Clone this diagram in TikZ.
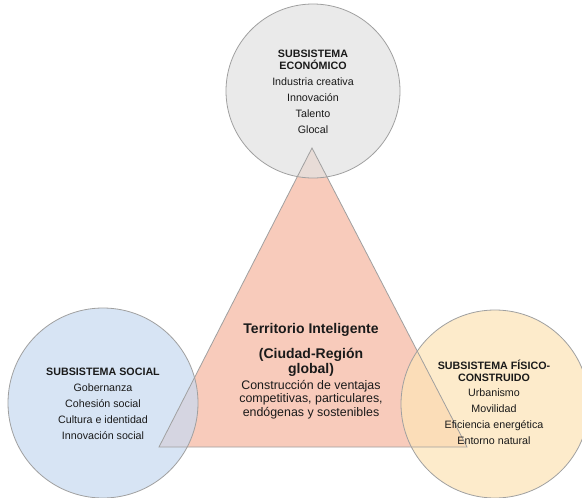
\documentclass[tikz,border=0pt]{standalone}
\usepackage{fontspec}
\setmainfont{Liberation Sans}
\definecolor{grayfill}{HTML}{E3E3E3}
\definecolor{bluefill}{HTML}{C8DAF0}
\definecolor{yellowfill}{HTML}{FDE4B7}
\definecolor{trifill}{HTML}{F8CBBB}
\definecolor{edgegray}{HTML}{A0A0A0}
\definecolor{txt}{HTML}{1A1A1A}
\begin{document}
\begin{tikzpicture}[x=1pt,y=-1pt,
  subsys/.style={circle, draw=edgegray, line width=0.8pt, fill opacity=0.72, inner sep=0pt},
  circtext/.style={align=center, text=txt, font=\fontsize{10.7}{12}\selectfont, inner sep=0pt},
  tritext/.style={align=center, text=txt, inner sep=0pt}
]
\useasboundingbox (0,0) rectangle (582,498);
\fill[white] (0,0) rectangle (582,498);
% triangle
\coordinate (apex) at (312,148);
\coordinate (bl) at (159,447);
\coordinate (br) at (467,447);
\fill[trifill] (apex) -- (bl) -- (br) -- cycle;
% circles
\node[subsys, fill=grayfill, minimum size=174pt] (eco) at (313,91) {};
\node[subsys, fill=bluefill, minimum size=190pt] (soc) at (103,403) {};
\node[subsys, fill=yellowfill, minimum size=188pt] (fis) at (495,404) {};
% triangle border on top
\draw[edgegray, line width=0.8pt, line join=miter] (apex) -- (bl) -- (br) -- cycle;
% texts
\node[circtext] (ecotxt) at (313,92) {\textbf{SUBSISTEMA}\\\textbf{ECONÓMICO}\\[4pt]Industria creativa\\[4pt]Innovación\\[4pt]Talento\\[4pt]Glocal};
\node[circtext] (soctxt) at (103,404) {\textbf{SUBSISTEMA SOCIAL}\\[4pt]Gobernanza\\[4pt]Cohesión social\\[4pt]Cultura e identidad\\[4pt]Innovación social};
\node[circtext] (fistxt) at (494,402.5) {\textbf{SUBSISTEMA FÍSICO-}\\\textbf{CONSTRUIDO}\\[3.5pt]Urbanismo\\[4pt]Movilidad\\[4pt]Eficiencia energética\\[4pt]Entorno natural};
\node[tritext, font=\bfseries\fontsize{14}{15}\selectfont] (tit) at (311,330) {Territorio Inteligente};
\node[tritext, font=\bfseries\fontsize{14}{15}\selectfont] (sub) at (311,362.5) {(Ciudad-Región\\global)};
\node[tritext, font=\fontsize{12.4}{13.5}\selectfont] (desc) at (311,399.5) {Construcción de ventajas\\competitivas, particulares,\\endógenas y sostenibles};
\end{tikzpicture}
\end{document}
